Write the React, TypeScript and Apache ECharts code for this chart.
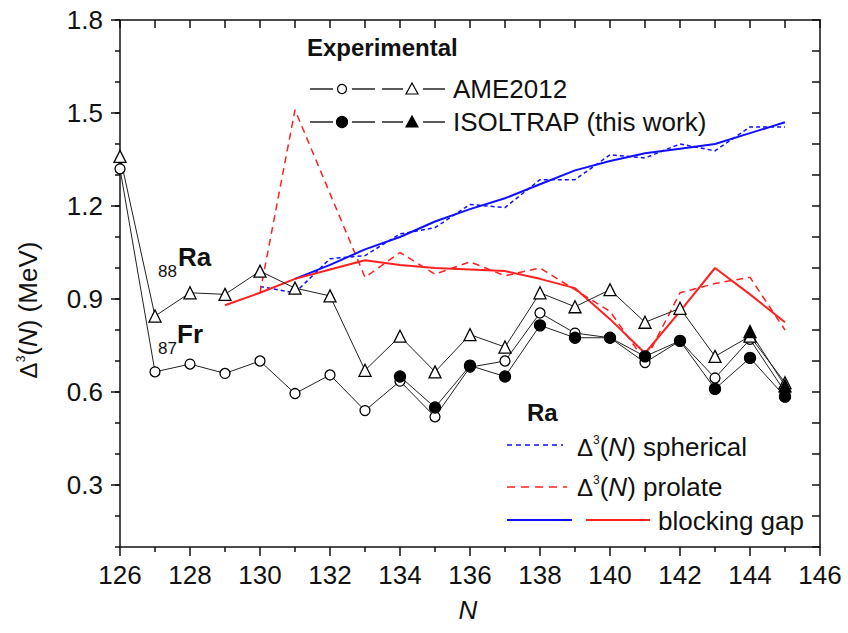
import React, { useEffect, useRef } from 'react';
import * as echarts from 'echarts';

// ---- data ----
const N_ALL = [126, 127, 128, 129, 130, 131, 132, 133, 134, 135, 136, 137, 138, 139, 140, 141, 142, 143, 144, 145];
const FR_AME = [1.32, 0.665, 0.69, 0.66, 0.70, 0.595, 0.655, 0.54, 0.635, 0.52, 0.68, 0.70, 0.855, 0.79, 0.775, 0.695, 0.765, 0.645, 0.77, 0.60];
const RA_AME = [1.36, 0.845, 0.92, 0.915, 0.99, 0.935, 0.91, 0.67, 0.78, 0.665, 0.785, 0.745, 0.92, 0.875, 0.93, 0.825, 0.87, 0.715, 0.78, 0.63];
const N_FR_ISO = [134, 135, 136, 137, 138, 139, 140, 141, 142, 143, 144, 145];
const FR_ISO = [0.65, 0.55, 0.685, 0.65, 0.815, 0.775, 0.775, 0.715, 0.765, 0.61, 0.71, 0.585];
const N_RA_ISO = [144, 145];
const RA_ISO = [0.795, 0.62];

const N_SPH_DASH = [130, 131, 132, 133, 134, 135, 136, 137, 138, 139, 140, 141, 142, 143, 144, 145];
const SPH_DASH = [0.94, 0.92, 1.03, 1.04, 1.11, 1.13, 1.205, 1.195, 1.285, 1.285, 1.365, 1.355, 1.40, 1.378, 1.455, 1.455];
const N_SPH_GAP = [131, 132, 133, 134, 135, 136, 137, 138, 139, 140, 141, 142, 143, 144, 145];
const SPH_GAP = [0.965, 1.01, 1.06, 1.10, 1.15, 1.19, 1.225, 1.27, 1.315, 1.345, 1.37, 1.385, 1.40, 1.435, 1.47];
const N_PRO_DASH = [130, 131, 132, 133, 134, 135, 136, 137, 138, 139, 140, 141, 142, 143, 144, 145];
const PRO_DASH = [0.92, 1.51, 1.24, 0.97, 1.05, 0.98, 1.02, 0.975, 1.0, 0.93, 0.86, 0.70, 0.92, 0.95, 0.97, 0.80];
const N_PRO_GAP = [129, 130, 131, 132, 133, 134, 135, 136, 137, 138, 139, 140, 141, 142, 143, 144, 145];
const PRO_GAP = [0.88, 0.92, 0.965, 0.995, 1.025, 1.01, 1.0, 0.995, 0.99, 0.965, 0.935, 0.835, 0.725, 0.86, 1.0, 0.915, 0.825];

const Y_LABELS = [0.3, 0.6, 0.9, 1.2, 1.5, 1.8];

const FONT = '"Liberation Sans", Arial, sans-serif';
const BLUE = '#1010ff';
const RED = '#ff2020';

const pairs = (xs: number[], ys: number[]) => xs.map((x, i) => [x, ys[i]]);

function expSeries(name: string, xs: number[], ys: number[], symbol: string, filled: boolean, size: number) {
  return {
    type: 'line',
    name,
    data: pairs(xs, ys),
    symbol,
    symbolSize: size,
    showAllSymbol: true,
    lineStyle: { color: '#222', width: 1 },
    itemStyle: { color: filled ? '#000' : '#fff', borderColor: '#000', borderWidth: 1.3 },
    z: 4,
  };
}

function theorySeries(name: string, xs: number[], ys: number[], color: string, dashed: boolean, dash: number[]) {
  return {
    type: 'line',
    name,
    data: pairs(xs, ys),
    symbol: 'none',
    lineStyle: { color, width: dashed ? 1.5 : 2, type: dashed ? dash : 'solid' },
    z: 3,
  };
}

const txt = (x: number, y: number, text: string, size: number, extra: any = {}) => ({
  type: 'text',
  x,
  y,
  style: { text, fontSize: size, fontFamily: FONT, fill: '#111', verticalAlign: 'middle', align: 'left', ...extra },
});

const seg = (x1: number, y1: number, x2: number, y2: number, stroke: string, w: number, dash?: number[]) => ({
  type: 'line',
  shape: { x1, y1, x2, y2 },
  style: { stroke, lineWidth: w, lineDash: dash },
});

const tri = (cx: number, cy: number, filled: boolean) => ({
  type: 'polygon',
  shape: { points: [[cx, cy - 6], [cx - 6, cy + 5], [cx + 6, cy + 5]] },
  style: { fill: filled ? '#000' : '#fff', stroke: '#000', lineWidth: 1.2 },
});

const circ = (cx: number, cy: number, filled: boolean) => ({
  type: 'circle',
  shape: { cx, cy, r: filled ? 5.5 : 4.5 },
  style: { fill: filled ? '#000' : '#fff', stroke: '#000', lineWidth: 1.2 },
});

const legendRow = (y: number, filled: boolean) => [
  seg(310, y, 333, y, '#000', 1.3),
  seg(352, y, 375, y, '#000', 1.3),
  seg(382, y, 403, y, '#000', 1.3),
  seg(423, y, 445, y, '#000', 1.3),
  circ(342, y, filled),
  tri(412, y, filled),
];

const deltaRich = {
  d: { fontSize: 24, fontFamily: FONT, fill: '#111' },
  s: { fontSize: 12, fontFamily: FONT, fill: '#111', verticalAlign: 'top', lineHeight: 12 },
  i: { fontSize: 26, fontFamily: FONT, fill: '#111', fontStyle: 'italic' },
  t: { fontSize: 26, fontFamily: FONT, fill: '#111' },
};

export default function App() {
  const ref = useRef<HTMLDivElement>(null);
  useEffect(() => {
    const chart = echarts.init(ref.current!, null, { renderer: 'svg' });
    const axisLine = { show: true, lineStyle: { color: '#111', width: 1.5 } };
    const option: any = {
      animation: false,
      backgroundColor: '#fff',
      grid: { left: 120, top: 20, width: 700, height: 527, containLabel: false },
      xAxis: [
        {
          type: 'value', position: 'bottom', min: 126, max: 146, interval: 2,
          axisLine,
          axisTick: { show: true, inside: false, length: 9, lineStyle: { color: '#111', width: 1.5 } },
          minorTick: { show: true, splitNumber: 2, length: 5, lineStyle: { color: '#111', width: 1.5 } },
          axisLabel: { fontSize: 26, fontFamily: FONT, color: '#111', margin: 15 },
          splitLine: { show: false },
        },
        {
          type: 'value', position: 'top', min: 126, max: 146, interval: 1,
          axisLine,
          axisTick: { show: true, inside: true, length: 8, lineStyle: { color: '#111', width: 1.5 } },
          axisLabel: { show: false },
          splitLine: { show: false },
        },
      ],
      yAxis: [
        {
          type: 'value', position: 'left', min: 0.1, max: 1.8,
          axisLine,
          axisTick: { show: true, inside: false, length: 9, customValues: Y_LABELS, lineStyle: { color: '#111', width: 1.5 } },
          axisLabel: { fontSize: 26, fontFamily: FONT, color: '#111', margin: 17, customValues: Y_LABELS, formatter: (v: number) => v.toFixed(1) },
          splitLine: { show: false },
        },
        {
          type: 'value', position: 'left', min: 0.1, max: 1.8, interval: 0.1,
          axisLine: { show: false },
          axisTick: { show: true, inside: false, length: 5, lineStyle: { color: '#111', width: 1.5 } },
          axisLabel: { show: false },
          splitLine: { show: false },
        },
        {
          type: 'value', position: 'right', min: 0.1, max: 1.8, interval: 0.1,
          axisLine,
          axisTick: { show: true, inside: true, length: 8, lineStyle: { color: '#111', width: 1.5 } },
          axisLabel: { show: false },
          splitLine: { show: false },
        },
      ],
      series: [
        theorySeries('spherical', N_SPH_DASH, SPH_DASH, BLUE, true, [4, 3]),
        theorySeries('prolate', N_PRO_DASH, PRO_DASH, RED, true, [7, 5]),
        theorySeries('blocking gap spherical', N_SPH_GAP, SPH_GAP, BLUE, false, []),
        theorySeries('blocking gap prolate', N_PRO_GAP, PRO_GAP, RED, false, []),
        expSeries('Fr AME2012', N_ALL, FR_AME, 'circle', false, 10),
        expSeries('Ra AME2012', N_ALL, RA_AME, 'triangle', false, 12),
        expSeries('Fr ISOLTRAP', N_FR_ISO, FR_ISO, 'circle', true, 11),
        expSeries('Ra ISOLTRAP', N_RA_ISO, RA_ISO, 'triangle', true, 12),
      ],
      graphic: [
        txt(307, 47, 'Experimental', 24, { fontWeight: 'bold' }),
        ...legendRow(89, false),
        ...legendRow(122, true),
        txt(453, 89, 'AME2012', 26),
        txt(453, 122, 'ISOLTRAP (this work)', 26),
        txt(178, 257, 'Ra', 26, { fontWeight: 'bold' }),
        txt(158, 271, '88', 17),
        txt(177, 334, 'Fr', 26, { fontWeight: 'bold' }),
        txt(158, 348, '87', 17),
        txt(527, 412, 'Ra', 24, { fontWeight: 'bold' }),
        seg(507, 445, 563, 445, BLUE, 1.5, [5, 4]),
        seg(507, 487, 567, 487, RED, 1.5, [8, 6]),
        seg(507, 520, 572, 520, BLUE, 2),
        seg(586, 520, 650, 520, RED, 2),
        txt(577, 447, '{d|Δ}{s|3}{t|(}{i|N}{t|) spherical}', 26, { rich: deltaRich }),
        txt(577, 487, '{d|Δ}{s|3}{t|(}{i|N}{t|) prolate}', 26, { rich: deltaRich }),
        txt(658, 521, 'blocking gap', 26),
        {
          type: 'text',
          x: 28,
          y: 310,
          rotation: Math.PI / 2,
          style: {
            text: '{d|Δ}{s|3}{t|(}{i|N}{t|) (MeV)}',
            rich: deltaRich,
            fontSize: 26,
            fontFamily: FONT,
            fill: '#111',
            align: 'center',
            verticalAlign: 'middle',
          },
        },
        txt(468, 610, 'N', 26, { fontStyle: 'italic', align: 'center' }),
      ],
    };
    chart.setOption(option);
    return () => chart.dispose();
  }, []);
  return (
    <div
      ref={ref}
      style={{ position: 'fixed', left: 0, top: 0, width: 848, height: 633, background: '#fff' }}
    />
  );
}
